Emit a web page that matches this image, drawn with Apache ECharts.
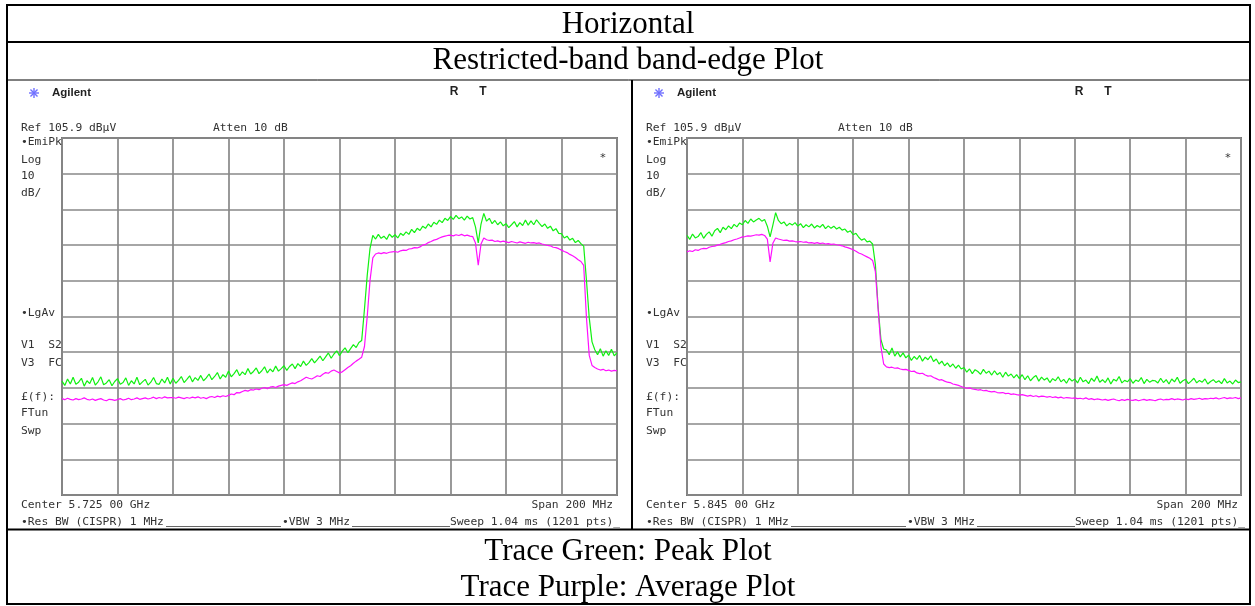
<!DOCTYPE html>
<html><head><meta charset="utf-8">
<script src="https://cdn.jsdelivr.net/npm/echarts@6/dist/echarts.min.js"></script>
<style>html,body{margin:0;padding:0;background:#fff}#c{width:1255px;height:606px}</style>
</head><body><div id="c"></div>
<script>
// ---- Screen settings ----
const refLevel = 105.9;      // dBµV at top graticule line
const dbPerDiv = 10;
const spanMHz = 200;
const leftCenterLabel = 'Center 5.725 00 GHz';
const rightCenterLabel = 'Center 5.845 00 GHz';

// ---- Trace data: 201 points, 1 MHz steps across the 200 MHz span ----
// Left screen: 5625 - 5825 MHz
const leftPeak = [
37.8,36.6,38.4,37.0,38.9,36.9,37.5,38.6,36.4,37.9,
37.1,38.8,36.7,37.6,39.0,36.8,37.3,38.2,36.5,37.7,
38.5,36.9,37.4,38.7,36.6,37.9,37.0,38.9,36.8,37.6,
38.3,36.7,37.5,38.8,37.1,36.9,38.4,37.3,38.9,37.0,
38.6,37.2,38.0,39.1,37.4,38.3,39.3,37.6,38.8,38.0,
39.4,37.9,38.7,39.8,38.2,39.1,40.2,38.4,39.6,38.9,
40.6,39.0,39.9,41.0,39.3,40.4,39.6,41.3,39.8,40.5,
41.5,39.9,40.7,41.8,40.1,41.2,40.4,42.0,40.6,41.3,
42.1,40.8,41.9,42.6,41.3,42.7,41.9,43.4,42.2,43.0,
44.1,42.9,43.8,44.8,43.5,44.6,45.7,44.2,45.4,46.3,
44.9,46.2,47.1,45.8,46.9,48.0,47.2,48.6,
49.2,58.0,67.5,75.0,78.6,
77.6,78.9,77.8,78.4,77.5,79.0,78.1,
78.8,77.9,79.2,78.6,79.6,78.9,80.3,79.4,80.6,
80.0,81.2,80.6,81.8,81.0,82.3,81.7,82.9,82.2,83.4,82.8,
83.9,83.1,84.2,83.3,83.8,82.9,84.0,83.2,83.6,
81.0,76.5,81.8,84.8,
82.6,83.4,81.9,82.8,81.6,82.4,81.3,
81.9,80.8,81.6,82.5,81.0,82.2,81.4,82.9,81.5,82.7,81.6,83.0,
82.0,81.1,81.8,80.6,81.2,79.9,80.5,79.2,
79.1,77.9,78.4,77.3,77.8,76.6,77.2,
76.3,75.6,66.0,55.5,48.8,46.6,
45.2,46.9,44.8,46.3,45.0,46.7,44.9,45.8
];
const leftAvg = [
32.9,32.6,33.0,32.7,32.5,32.9,32.6,32.8,33.1,32.7,
32.5,32.8,32.4,32.7,32.9,32.5,32.3,32.7,32.6,32.4,
32.6,32.9,32.5,32.7,33.0,32.6,32.8,33.1,32.7,32.9,
33.1,32.8,33.0,33.3,32.9,33.2,33.0,33.4,33.1,33.2,
33.2,33.0,33.3,33.1,32.9,33.2,33.0,33.3,33.1,33.4,
33.0,33.2,32.9,33.3,33.5,33.2,33.6,33.4,33.7,33.5,
33.8,34.2,34.0,34.6,34.5,34.9,35.2,35.0,35.4,35.3,
35.6,35.4,35.8,36.0,35.7,36.1,36.3,36.0,36.4,36.6,
36.8,36.6,37.0,37.3,37.1,37.6,37.9,38.4,38.9,38.6,
38.4,38.8,39.3,39.1,39.7,40.2,40.0,40.6,40.9,40.5,
40.1,40.4,41.0,41.6,42.1,42.8,43.4,43.9,
44.5,47.5,56.0,66.0,72.3,
73.4,73.7,73.5,73.8,73.6,73.9,74.0,
74.1,73.9,74.3,74.5,74.4,74.8,74.9,75.2,75.1,
75.4,75.9,76.1,76.6,76.9,77.3,77.5,77.9,78.2,78.4,78.6,
78.7,78.5,78.8,78.6,78.9,78.5,78.7,78.4,78.3,
76.5,70.3,76.2,77.9,
77.4,77.2,77.3,76.9,77.1,76.8,77.0,
76.8,76.6,76.9,76.7,76.5,76.8,76.6,76.4,76.7,76.5,76.6,76.4,
76.5,76.2,76.0,75.8,75.7,75.3,75.2,74.9,
74.5,74.1,73.8,73.3,72.9,72.4,71.8,
71.3,70.2,55.5,45.0,42.2,41.6,
41.2,40.9,41.1,40.7,40.9,40.6,40.8,40.7
];
// Right screen: 5745 - 5945 MHz
const rightPeak = [
78.6,77.5,79.0,77.9,78.3,79.4,77.8,78.9,79.6,78.4,
79.9,80.6,79.4,80.9,80.2,81.3,80.5,81.7,81.0,82.1,
81.6,82.8,82.0,83.2,82.4,82.9,83.4,82.6,83.1,
81.2,78.2,81.5,85.0,82.8,
81.9,82.4,81.3,82.0,81.5,82.2,
81.2,81.9,80.8,81.6,81.0,81.8,80.7,81.4,80.9,81.7,80.5,81.3,80.6,81.2,80.4,
80.9,80.1,80.4,79.5,79.9,78.8,79.2,
78.1,77.3,77.7,76.8,77.0,76.2,
70.5,58.5,49.5,46.8,
46.5,45.2,47.1,44.8,46.0,44.6,45.7,44.3,
45.1,43.6,44.7,43.9,45.0,43.4,44.5,43.8,44.9,43.3,
44.0,42.6,43.4,42.1,42.9,41.8,42.6,41.4,42.3,41.2,
41.6,40.3,41.2,39.9,41.0,40.5,39.7,41.1,40.0,40.6,
39.5,40.7,39.6,40.2,38.9,40.3,39.2,39.8,38.7,39.6,
38.5,39.6,38.2,39.3,37.9,38.8,39.4,37.8,38.9,38.1,
38.7,37.4,38.5,37.9,39.0,37.6,38.3,37.2,38.6,37.8,
38.4,37.3,38.9,37.6,38.1,37.1,38.6,37.7,39.2,37.5,
38.2,37.4,38.7,37.0,38.3,37.8,39.1,37.3,38.0,37.6,
38.5,37.2,38.1,37.7,38.8,37.1,38.3,37.5,38.0,37.9,
37.3,38.6,37.4,38.2,37.0,38.4,37.6,38.9,37.2,37.9,
38.3,37.1,37.8,38.6,37.3,38.0,37.5,38.4,37.0,37.7,
38.2,37.4,37.9,37.1,38.5,37.3,37.8,37.0,38.1,37.4,37.6
];
const rightAvg = [
74.0,74.3,74.1,74.6,74.4,74.8,75.0,74.9,75.3,75.5,
75.6,75.9,76.1,76.4,76.6,76.9,77.1,77.4,77.6,77.9,
78.2,78.3,78.5,78.4,78.6,78.8,78.7,78.9,78.6,
77.6,71.2,76.4,77.9,77.6,
77.4,77.2,77.3,77.0,77.1,76.9,
76.8,76.9,76.7,76.8,76.5,76.6,76.4,76.6,76.3,76.5,76.2,76.3,76.1,76.2,76.0,
75.9,75.7,75.4,75.2,74.9,74.6,74.2,
73.7,73.4,73.0,72.6,72.2,71.6,
68.5,58.0,47.5,42.6,
41.8,41.6,41.7,41.4,41.5,41.2,41.0,41.1,
40.8,40.5,40.6,40.1,39.9,40.0,39.5,39.2,39.3,38.8,
38.5,38.1,38.2,37.8,37.5,37.4,37.0,36.8,36.6,36.3,
36.0,35.8,35.9,35.6,35.5,35.3,35.4,35.1,35.2,34.9,
34.8,34.9,34.6,34.5,34.6,34.3,34.4,34.1,34.2,34.0,
33.9,34.0,33.8,33.6,33.8,33.5,33.7,33.4,33.6,33.5,
33.3,33.5,33.2,33.4,33.1,33.3,33.0,33.2,33.1,33.0,
33.1,32.9,33.0,32.8,33.1,32.7,32.9,32.6,32.8,32.7,
32.5,32.7,32.4,32.6,32.8,32.5,32.3,32.6,32.4,32.7,
32.5,32.4,32.6,32.3,32.5,32.7,32.4,32.6,32.5,32.3,
32.6,32.8,32.5,32.7,32.6,32.9,32.6,32.8,32.7,32.5,
32.8,32.6,32.9,32.7,32.8,33.0,32.7,32.9,32.8,33.0,
32.9,33.1,32.8,33.0,33.2,32.9,33.1,33.0,33.2,32.9,33.1
];

// ---- Build chart ----
const bottomLevel = refLevel - 10 * dbPerDiv;
const pts = leftPeak.length;
const offsets = Array.from({length: pts}, (_, i) => -spanMHz / 2 + i * spanMHz / (pts - 1));
const toPairs = arr => arr.map((v, i) => [offsets[i], +(v - bottomLevel).toFixed(2)]);

const FG = '#333';
const MONO = '11.3px "DejaVu Sans Mono"';
function txt(x, y, text, o) {
  o = o || {};
  return { type: 'text', x: x, y: y, silent: true, z: 10,
    style: { text: text, fill: o.fill || FG, font: o.font || MONO,
      textAlign: o.align || 'left', textVerticalAlign: 'middle' } };
}
function ln(x1, y1, x2, y2, w, c) {
  return { type: 'line', silent: true, z: 20, shape: { x1: x1, y1: y1, x2: x2, y2: y2 },
    style: { stroke: c || '#000', lineWidth: w || 1 } };
}
function screen(dx, centerLabel) {
  const g = [];
  // Agilent logo star
  const cx = 34 + dx, cy = 93;
  for (let k = 0; k < 4; k++) {
    const a = k * Math.PI / 4, r = 5;
    g.push(ln(cx - r * Math.cos(a), cy - r * Math.sin(a), cx + r * Math.cos(a), cy + r * Math.sin(a), 1.4, '#7070ff'));
  }
  g.push(txt(52 + dx, 93, 'Agilent', { font: 'bold 11.5px "Liberation Sans"', fill: '#222' }));
  g.push(txt(454 + dx, 92, 'R', { font: 'bold 12px "Liberation Sans"', fill: '#222', align: 'center' }));
  g.push(txt(483 + dx, 92, 'T', { font: 'bold 12px "Liberation Sans"', fill: '#222', align: 'center' }));
  g.push(txt(21 + dx, 128, 'Ref 105.9 dBµV'));
  g.push(txt(213 + dx, 128, 'Atten 10 dB'));
  const side = [['•EmiPk', 142], ['Log', 160], ['10', 176], ['dB/', 193], ['•LgAv', 313],
    ['V1  S2', 345], ['V3  FC', 363], ['£(f):', 397], ['FTun', 413], ['Swp', 431]];
  side.forEach(s => g.push(txt(21 + dx, s[1], s[0])));
  g.push(txt(603 + dx, 158, '*', { align: 'center' }));
  g.push(txt(21 + dx, 505, centerLabel));
  g.push(txt(613 + dx, 505, 'Span 200 MHz', { align: 'right' }));
  g.push(txt(21 + dx, 522, '•Res BW (CISPR) 1 MHz'));
  g.push(ln(166 + dx, 526.5, 281 + dx, 526.5, 1, '#666'));
  g.push(txt(282 + dx, 522, '•VBW 3 MHz'));
  g.push(ln(352 + dx, 526.5, 450 + dx, 526.5, 1, '#666'));
  g.push(txt(450 + dx, 522, 'Sweep 1.04 ms (1201 pts)_'));
  return g;
}

const graphic = [].concat(
  screen(0, leftCenterLabel),
  screen(625, rightCenterLabel),
  [
    // table frame
    { type: 'rect', silent: true, z: 30, shape: { x: 7, y: 5, width: 1243, height: 599 },
      style: { fill: 'none', stroke: '#000', lineWidth: 2 } },
    ln(7, 42, 1250, 42, 2),
    ln(7, 80, 1250, 80, 1),
    ln(7, 529.5, 1250, 529.5, 2),
    ln(632, 80, 632, 529, 2),
    txt(628, 25, 'Horizontal', { font: '31px "Liberation Serif"', fill: '#000', align: 'center' }),
    txt(628, 61, 'Restricted-band band-edge Plot', { font: '31px "Liberation Serif"', fill: '#000', align: 'center' }),
    txt(628, 552, 'Trace Green: Peak Plot', { font: '31px "Liberation Serif"', fill: '#000', align: 'center' }),
    txt(628, 588, 'Trace Purple: Average Plot', { font: '31px "Liberation Serif"', fill: '#000', align: 'center' })
  ]
);

function xAx(i) {
  return { type: 'value', gridIndex: i, min: -spanMHz / 2, max: spanMHz / 2, interval: spanMHz / 10,
    axisLine: { show: false }, axisTick: { show: false }, axisLabel: { show: false },
    splitLine: { show: true, lineStyle: { color: '#888', width: 1.7 } } };
}
function yAx(i) {
  return { type: 'value', gridIndex: i, min: 0, max: 10 * dbPerDiv, interval: dbPerDiv,
    axisLine: { show: false }, axisTick: { show: false }, axisLabel: { show: false },
    splitLine: { show: true, lineStyle: { color: '#888', width: 1.7 } } };
}
function trace(arr, gi, color) {
  return { type: 'line', xAxisIndex: gi, yAxisIndex: gi, data: toPairs(arr), showSymbol: false,
    symbol: 'none', lineStyle: { color: color, width: 1.2 }, itemStyle: { color: color },
    animation: false, silent: true, z: 5 };
}

const chart = echarts.init(document.getElementById('c'), null, { renderer: 'canvas' });
chart.setOption({
  backgroundColor: '#fff',
  animation: false,
  grid: [
    { left: 62, top: 138, width: 555, height: 357, show: true, borderColor: '#777', borderWidth: 2, backgroundColor: 'transparent' },
    { left: 687, top: 138, width: 554, height: 357, show: true, borderColor: '#777', borderWidth: 2, backgroundColor: 'transparent' }
  ],
  xAxis: [xAx(0), xAx(1)],
  yAxis: [yAx(0), yAx(1)],
  series: [
    trace(leftPeak, 0, '#12f012'),
    trace(leftAvg, 0, '#ff10ff'),
    trace(rightPeak, 1, '#12f012'),
    trace(rightAvg, 1, '#ff10ff')
  ],
  graphic: graphic
});
</script>
</body></html>
